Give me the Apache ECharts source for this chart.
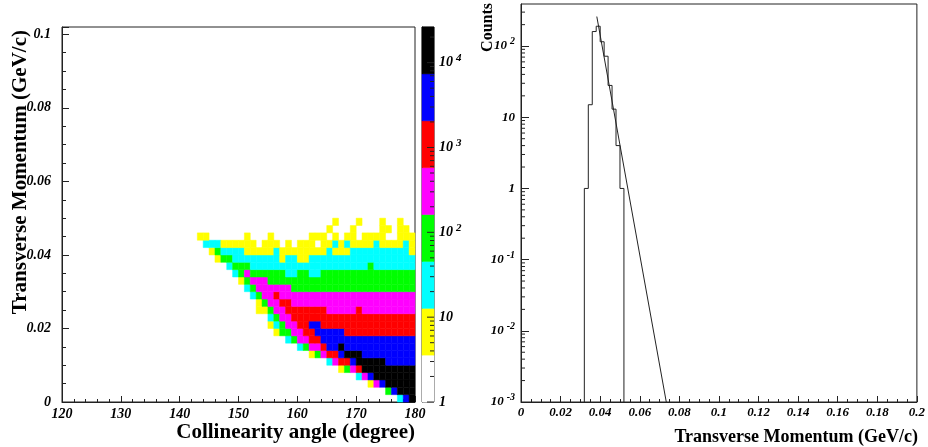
<!DOCTYPE html>
<html>
<head>
<meta charset="utf-8">
<script src="https://cdn.jsdelivr.net/npm/echarts@6/dist/echarts.min.js"></script>
<style>
  html, body { margin: 0; padding: 0; background: #fff; }
  #chart { width: 928px; height: 447px; }
</style>
</head>
<body>
<div id="chart"></div>
<script>
  // ---- left pad: 2D histogram, collinearity angle vs transverse momentum ----
  var angleStart = 143;   // degree of first char in each row
  var angleBin = 1;
  var ptBin = 0.002;
  // one string per pt row, from pt = 0 upward; char = colour level of the cell (0 = empty)
  var cellLevels = [
    "0000000000000000000000000000000000267",
    "0000000000000000000000000000000036777",
    "0000000000000000000000000000014677777",
    "0000000000000000000000000002467777777",
    "0000000000000000000000001345777777777",
    "0000000000000000000000245567777766666",
    "0000000000000000000134556777666666666",
    "0000000000000000023445667666666666666",
    "0000000000000002344556666666666666666",
    "0000000000000133445566666555555555555",
    "0000000000001234455665555555555555555",
    "0000000000002344555555555555555555555",
    "0000000000113445555555444445444444444",
    "0000000000134455444444444444444444444",
    "0000000002344544444444444444444444444",
    "0000000023444444333333333333333333333",
    "0000000134443333333333333333333333333",
    "0000002343333332233223333333333333333",
    "0000023332222222222222222222232222222",
    "0001332222222212211222222222222222222",
    "0013222211111211111111211122222222221",
    "0222111111011101011101121211112111121",
    "1100000010001000000111010110111100111",
    "0000000000000000000000100010000110110",
    "0000000000000000000000010001000100100"
  ];
  var levelEdges = [1, 3.57, 12.7, 45.4, 162, 578, 2063, 7365, 26300];
  var levelCounts = [0, 7, 24, 85, 300, 1100, 3900, 14000];
  var levelColors = ['#ffffff', '#ffff00', '#00ffff', '#00ff00', '#ff00ff', '#ff0000', '#0000ff', '#000000'];
  var paletteDecades = [1, 10, 100, 1000, 10000];

  // ---- right pad: pt projection, log scale, with exponential fit ----
  var ptEdges = [0.032, 0.034, 0.036, 0.038, 0.040, 0.042, 0.044, 0.046, 0.048, 0.050, 0.052];
  var ptCounts = [1, 15, 160, 190, 115, 72, 28, 13, 4, 1];
  var fitPt = [0.0383, 0.0734];
  var fitCounts = [260, 0.001];
  var countsMin = 0.001, countsMax = 390;

  var heatData = [];
  cellLevels.forEach(function (row, r) {
    for (var i = 0; i < row.length; i++) {
      var lv = +row[i];
      if (lv > 0) heatData.push([angleStart + i * angleBin, r * ptBin, levelCounts[lv]]);
    }
  });

  var histLine = [[ptEdges[0], countsMin]];
  ptCounts.forEach(function (c, i) {
    histLine.push([ptEdges[i], c], [ptEdges[i + 1], c]);
  });
  histLine.push([ptEdges[ptEdges.length - 1], countsMin]);

  var fitLine = fitPt.map(function (x, i) { return [x, fitCounts[i]]; });

  var barData = levelColors.map(function (c, i) { return [i, levelEdges[i], levelEdges[i + 1]]; });

  // log minor ticks (2..9 per decade)
  function logMinor(lo, hi, xPos) {
    var out = [];
    for (var e = Math.floor(Math.log10(lo)); e <= Math.ceil(Math.log10(hi)); e++) {
      for (var m = 2; m <= 9; m++) {
        var v = m * Math.pow(10, e);
        if (v > lo && v < hi) out.push([xPos, v]);
      }
    }
    return out;
  }

  var serif = '"Liberation Serif", "DejaVu Serif", serif';
  var labelFont = { fontFamily: serif, fontWeight: 'bold', fontStyle: 'italic', color: '#000' };
  var lineCol = '#222';

  function powerLabel(v) {
    var e = Math.round(Math.log10(v));
    if (e === 0) return '{b|1}';
    if (e === 1) return '{b|10}';
    return '{b|10}{s|' + e + '}';
  }
  function richFor(size) {
    return {
      b: Object.assign({ fontSize: size, lineHeight: size + 6 }, labelFont),
      s: Object.assign({ fontSize: size - 3, lineHeight: size - 3, verticalAlign: 'top', padding: [0, 0, 0, 3] }, labelFont)
    };
  }

  function tickRender(len) {
    return function (params, api) {
      var p = api.coord([api.value(0), api.value(1)]);
      return {
        type: 'line',
        shape: { x1: p[0], y1: p[1], x2: p[0] + len, y2: p[1] },
        style: { stroke: lineCol, lineWidth: 1 }
      };
    };
  }

  var chart = echarts.init(document.getElementById('chart'));

  var option = {
    animation: false,
    backgroundColor: '#fff',
    grid: [
      { left: 62, top: 27, width: 353, height: 375, show: true, borderColor: lineCol, borderWidth: 1 },
      { left: 422, top: 27, width: 12, height: 375, show: true, borderColor: lineCol, borderWidth: 1 },
      { left: 521, top: 4, width: 398, height: 398, show: true, borderColor: lineCol, borderWidth: 1 }
    ],
    xAxis: [
      {
        gridIndex: 0, type: 'value', min: 120, max: 180, interval: 10,
        axisLine: { onZero: false, lineStyle: { color: lineCol } },
        axisTick: { inside: true, length: 6, lineStyle: { color: lineCol } },
        minorTick: { show: true, splitNumber: 5, length: 3, lineStyle: { color: lineCol } },
        splitLine: { show: false },
        axisLabel: Object.assign({ fontSize: 14, margin: 5, showMinLabel: true, showMaxLabel: true }, labelFont)
      },
      { gridIndex: 1, type: 'value', min: 0, max: 1, show: false },
      {
        gridIndex: 2, type: 'value', min: 0, max: 0.2, interval: 0.02,
        axisLine: { onZero: false, lineStyle: { color: lineCol } },
        axisTick: { inside: true, length: 6, lineStyle: { color: lineCol } },
        minorTick: { show: true, splitNumber: 4, length: 3, lineStyle: { color: lineCol } },
        splitLine: { show: false },
        axisLabel: Object.assign({ fontSize: 13, margin: 4, showMinLabel: true, showMaxLabel: true }, labelFont)
      }
    ],
    yAxis: [
      {
        gridIndex: 0, type: 'value', min: 0, max: 0.102, interval: 0.02,
        axisLine: { show: true, onZero: false, lineStyle: { color: lineCol } },
        axisTick: { show: true, inside: true, length: 7, lineStyle: { color: lineCol } },
        minorTick: { show: true, splitNumber: 4, length: 4, lineStyle: { color: lineCol } },
        splitLine: { show: false },
        axisLabel: Object.assign({ fontSize: 14, margin: 11, showMaxLabel: false }, labelFont)
      },
      {
        gridIndex: 1, type: 'log', min: levelEdges[0], max: levelEdges[levelEdges.length - 1], position: 'right',
        axisLine: { show: true, lineStyle: { color: lineCol } },
        axisTick: { show: false },
        splitLine: { show: false },
        axisLabel: { margin: 5, showMaxLabel: false, formatter: powerLabel, rich: richFor(14) }
      },
      {
        gridIndex: 2, type: 'log', min: countsMin, max: countsMax,
        axisLine: { show: true, lineStyle: { color: lineCol } },
        axisTick: { show: true, inside: true, length: 8, lineStyle: { color: lineCol } },
        splitLine: { show: false },
        axisLabel: { margin: 6, showMaxLabel: false, formatter: powerLabel, rich: richFor(13) }
      }
    ],
    visualMap: {
      type: 'piecewise', show: false, seriesIndex: 0, dimension: 2,
      pieces: levelColors.map(function (c, i) {
        return { gte: levelEdges[i], lt: levelEdges[i + 1], color: c };
      })
    },
    series: [
      {
        type: 'custom', xAxisIndex: 0, yAxisIndex: 0, encode: { x: 0, y: 1 },
        data: heatData,
        renderItem: function (params, api) {
          var p0 = api.coord([api.value(0), api.value(1)]);
          var p1 = api.coord([api.value(0) + angleBin, api.value(1) + ptBin]);
          var col = api.visual('color');
          return {
            type: 'rect',
            shape: { x: p0[0], y: p1[1], width: p1[0] - p0[0], height: p0[1] - p1[1] },
            style: { fill: col, stroke: col, lineWidth: 0.5 }
          };
        }
      },
      {
        type: 'custom', xAxisIndex: 1, yAxisIndex: 1, encode: { x: 0, y: 1 },
        data: barData,
        renderItem: function (params, api) {
          var p0 = api.coord([0, api.value(1)]);
          var p1 = api.coord([1, api.value(2)]);
          var col = levelColors[api.value(0)];
          return {
            type: 'rect',
            shape: { x: p0[0], y: p1[1], width: p1[0] - p0[0], height: p0[1] - p1[1] },
            style: { fill: col, stroke: col, lineWidth: 0.5 }
          };
        }
      },
      {
        type: 'custom', xAxisIndex: 1, yAxisIndex: 1, encode: { x: 0, y: 1 }, z: 5,
        data: logMinor(levelEdges[0], levelEdges[levelEdges.length - 1], 1),
        renderItem: tickRender(-4)
      },
      {
        type: 'custom', xAxisIndex: 1, yAxisIndex: 1, encode: { x: 0, y: 1 }, z: 5,
        data: paletteDecades.map(function (v) { return [1, v]; }),
        renderItem: tickRender(-7)
      },
      {
        type: 'line', xAxisIndex: 2, yAxisIndex: 2, data: histLine,
        symbol: 'none', lineStyle: { color: lineCol, width: 1 }
      },
      {
        type: 'line', xAxisIndex: 2, yAxisIndex: 2, data: fitLine,
        symbol: 'none', lineStyle: { color: lineCol, width: 1 }
      },
      {
        type: 'custom', xAxisIndex: 2, yAxisIndex: 2, encode: { x: 0, y: 1 },
        data: logMinor(countsMin, countsMax, 0),
        renderItem: tickRender(4)
      }
    ],
    graphic: [
      {
        type: 'text', x: 21, y: 30, rotation: Math.PI / 2,
        style: { text: 'Transverse Momentum (GeV/c)', fontFamily: serif, fontWeight: 'bold', fontSize: 21, fill: '#000', align: 'right', verticalAlign: 'middle' }
      },
      {
        type: 'text', x: 415, y: 433,
        style: { text: 'Collinearity angle (degree)', fontFamily: serif, fontWeight: 'bold', fontSize: 21, fill: '#000', align: 'right', verticalAlign: 'middle' }
      },
      {
        type: 'text', x: 488, y: 3, rotation: Math.PI / 2,
        style: { text: 'Counts', fontFamily: serif, fontWeight: 'bold', fontSize: 16, fill: '#000', align: 'right', verticalAlign: 'middle' }
      },
      {
        type: 'text', x: 918, y: 437,
        style: { text: 'Transverse Momentum (GeV/c)', fontFamily: serif, fontWeight: 'bold', fontSize: 18, fill: '#000', align: 'right', verticalAlign: 'middle' }
      }
    ]
  };

  chart.setOption(option);
</script>
</body>
</html>
